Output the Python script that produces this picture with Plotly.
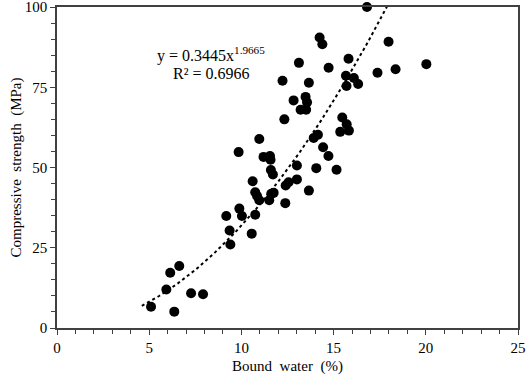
import numpy as np
import plotly.graph_objects as go

bound_water = [5.10, 6.36, 5.93, 6.14, 6.63, 7.27, 7.92, 9.18, 9.36, 9.40,
               9.89, 10.03, 10.56, 10.75, 10.61, 10.75, 10.85, 10.97, 11.51, 11.62,
               11.75, 11.60, 11.71, 11.20, 11.55, 11.58, 12.38, 12.40, 12.56, 13.01,
               13.01, 13.66, 14.06, 15.16, 9.85, 10.97, 13.92, 14.15, 14.43, 14.72,
               12.33, 15.47, 15.71, 15.83, 15.36, 12.83, 13.48, 13.56, 13.21, 13.51,
               12.23, 13.66, 15.67, 16.10, 16.33, 15.70, 13.12, 14.73, 15.81, 17.38,
               18.36, 20.03, 14.24, 14.39, 17.98, 16.81]
strength = [6.6, 5.1, 12.0, 17.2, 19.3, 10.8, 10.5, 34.9, 30.4, 26.0,
            37.2, 34.9, 29.4, 35.3, 45.7, 42.3, 41.1, 39.8, 39.8, 41.8,
            42.1, 49.2, 47.8, 53.3, 53.6, 52.4, 38.9, 44.4, 45.4, 50.6,
            46.3, 42.8, 49.8, 49.3, 54.8, 58.9, 59.2, 60.2, 56.3, 53.6,
            65.0, 65.6, 63.5, 61.5, 61.1, 70.9, 72.0, 70.3, 68.0, 68.0,
            77.0, 76.4, 78.6, 77.9, 76.0, 75.4, 82.6, 81.1, 83.9, 79.5,
            80.6, 82.2, 90.5, 88.4, 89.2, 100.0]

fit_a = 0.3445
fit_b = 1.9665
fit_x_start = 4.6
fit_x_end = 17.9

x_ticks = [0, 5, 10, 15, 20, 25]
y_ticks = [0, 25, 50, 75, 100]

fx = np.linspace(fit_x_start, fit_x_end, 200)
fy = fit_a * fx ** fit_b

FAM = "Liberation Serif, Times New Roman, serif"

fig = go.Figure()
fig.add_trace(go.Scatter(x=fx, y=fy, mode="lines",
                         line=dict(color="black", width=2, dash="dot"),
                         showlegend=False, hoverinfo="skip"))
fig.add_trace(go.Scatter(x=bound_water, y=strength, mode="markers",
                         marker=dict(color="black", size=10),
                         showlegend=False, cliponaxis=False))

fig.add_annotation(x=8.37, y=85.2, xref="x", yref="y",
                   text="y = 0.3445x<sup>1.9665</sup>", showarrow=False,
                   font=dict(family=FAM, size=16, color="black"))
fig.add_annotation(x=8.37, y=79.2, xref="x", yref="y",
                   text="R² = 0.6966", showarrow=False,
                   font=dict(family=FAM, size=16, color="black"))

axis_common = dict(showgrid=False, zeroline=False, showline=True, linecolor="#404040",
                   linewidth=1.5, mirror=True, ticks="outside", ticklen=5, tickwidth=1,
                   tickcolor="#404040", automargin=False, ticklabeloverflow="allow",
                   tickfont=dict(family=FAM, size=15, color="black"))

fig.update_xaxes(range=[0, 25], tickvals=x_ticks, ticktext=[str(v) for v in x_ticks],
                 title=dict(text="Bound\u00a0 water\u00a0 (%)",
                            font=dict(family=FAM, size=15, color="black"), standoff=6),
                 minor=dict(dtick=1, ticks="outside", ticklen=4, tickcolor="#404040"),
                 **axis_common)
fig.update_yaxes(range=[0, 100], tickvals=y_ticks, ticktext=[str(v) for v in y_ticks],
                 title=dict(text="Compressive\u00a0 strength\u00a0 (MPa)",
                            font=dict(family=FAM, size=15, color="black"), standoff=0),
                 minor=dict(dtick=5, ticks="outside", ticklen=4, tickcolor="#404040"),
                 **axis_common)

fig.update_layout(width=526, height=378, margin=dict(l=57, r=8, t=7, b=50),
                  plot_bgcolor="white", paper_bgcolor="white")

fig.write_html("out.html", config={"displayModeBar": False},
               post_script="document.body.style.margin='0';document.body.style.overflow='hidden';")
